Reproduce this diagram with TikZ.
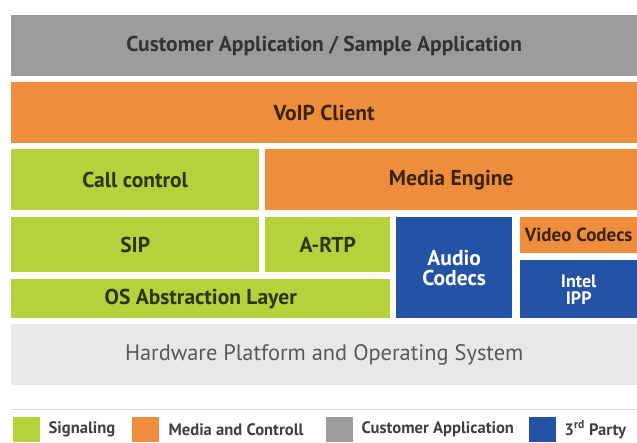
\documentclass[tikz,border=0pt]{standalone}
\usepackage{fontspec}
\setmainfont{PT Sans}
\usetikzlibrary{positioning}

\definecolor{siggreen}{HTML}{B3D23C}
\definecolor{medorange}{HTML}{EE8E3C}
\definecolor{custgray}{HTML}{9C9C9C}
\definecolor{thirdblue}{HTML}{2453A6}
\definecolor{hwgray}{HTML}{E8E8E8}

\begin{document}
\begin{tikzpicture}[x=1pt, y=-1pt,
  font=\fontsize{21.5}{23}\selectfont\bfseries,
  layer/.style={anchor=north west, inner sep=0pt, align=center},
  sig/.style={layer, fill=siggreen, text=black!75!siggreen},
  media/.style={layer, fill=medorange, text=black!75!medorange},
  cust/.style={layer, fill=custgray, text=black!80},
  third/.style={layer, fill=thirdblue, text=white},
  hw/.style={layer, fill=hwgray, text=black!65, font=\fontsize{22.4}{24}\selectfont},
  swatch/.style={anchor=north west, inner sep=0pt, minimum width=27pt, minimum height=25pt},
  key/.style={anchor=west, inner sep=0pt, text=black!75,
              font=\fontsize{16.6}{18}\selectfont\bfseries},
]
\useasboundingbox (0,0) rectangle (637,442);

% top layers
\node[cust, minimum width=626pt, minimum height=61pt] (app) at (11,15)
  {Customer Application / Sample Application};
\node[media, minimum width=626pt, minimum height=61pt] (voip) at (11,82) {VoIP Client};
\node[sig, minimum width=248pt, minimum height=61pt] (callctl) at (11,149) {Call control};
\node[media, minimum width=372pt, minimum height=61pt] (engine) at (265,149) {Media Engine};

% stack
\node[sig, minimum width=248pt, minimum height=55pt] (sip) at (11,217) {SIP};
\node[sig, minimum width=125pt, minimum height=55pt] (artp) at (265,217) {A-RTP};
\node[sig, minimum width=379pt, minimum height=39pt] (osal) at (11,279) {OS Abstraction Layer};
\node[third, minimum width=116pt, minimum height=101pt] (audio) at (396,217)
  {Audio\\[-3pt]Codecs};
\node[media, minimum width=117pt, minimum height=36pt,
      font=\fontsize{19}{21}\selectfont\bfseries] (video) at (520,217) {Video Codecs};
\node[third, minimum width=117pt, minimum height=58pt,
      font=\fontsize{18}{20}\selectfont\bfseries] (ipp) at (520,260) {Intel\\[-3pt]IPP};

% platform
\node[hw, minimum width=626pt, minimum height=61pt] (hwos) at (11,324)
  {Hardware Platform and Operating System};

% legend
\draw[black!15, line width=1pt] (11,409) -- (637,409);
\node[swatch, fill=siggreen] (ksig) at (13,417) {};
\node[key, right=8pt of ksig] {Signaling};
\node[swatch, fill=medorange] (kmed) at (132,417) {};
\node[key, right=9pt of kmed] {Media and Controll};
\node[swatch, fill=custgray] (kcust) at (326,417) {};
\node[key, right=8pt of kcust] {Customer Application};
\node[swatch, fill=thirdblue] (kthird) at (529,417) {};
\node[key, right=8pt of kthird] {3\textsuperscript{rd} Party};
\end{tikzpicture}
\end{document}
